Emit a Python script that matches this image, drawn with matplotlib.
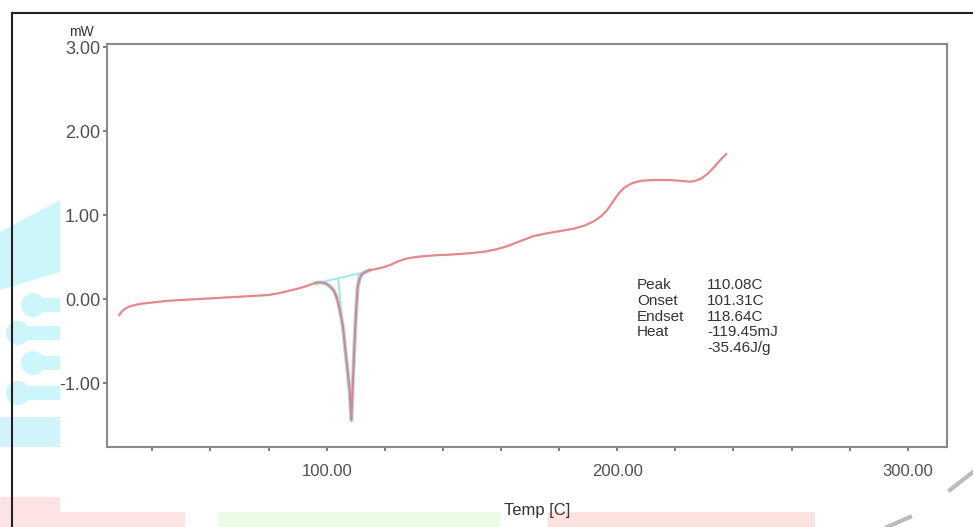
import matplotlib
matplotlib.use("Agg")
import matplotlib.pyplot as plt
import matplotlib.patches as patches
from matplotlib.lines import Line2D

plt.rcParams['font.family'] = ['Liberation Sans', 'DejaVu Sans']

# DSC trace: temperature [C] and heat flow [mW]
temp = [28.6, 29.3, 30.2, 31.3, 32.7, 34.5, 37, 41, 45, 52, 60, 70, 80, 84, 87, 90,
        92.5, 94.5, 96.3, 97.8, 99.2, 100.5, 101.5, 102.5, 103.5, 104.5, 105.6, 106.7,
        107.9, 108.5, 109.0, 109.5, 109.9, 110.3, 110.7, 111.3, 111.9, 113, 114.7,
        117, 119.5, 122, 124.5, 127, 130, 134, 138, 142, 150, 155, 159, 162, 165, 168,
        171, 175, 180, 185, 189, 192, 194.5, 196.5, 198.5, 200.5, 202.5, 205, 208,
        212, 218, 222, 225, 227, 229, 231, 233, 235, 237.5]
heat_flow = [-0.19, -0.155, -0.125, -0.1, -0.08, -0.065, -0.05, -0.035, -0.02, -0.005,
             0.01, 0.03, 0.05, 0.075, 0.1, 0.125, 0.15, 0.175, 0.195, 0.20, 0.195, 0.17,
             0.14, 0.10, 0.02, -0.12, -0.33, -0.69, -1.08, -1.44, -1.0, -0.6, -0.29,
             -0.05, 0.15, 0.24, 0.29, 0.32, 0.345, 0.36, 0.38, 0.41, 0.45, 0.48, 0.50,
             0.515, 0.525, 0.53, 0.55, 0.57, 0.60, 0.63, 0.67, 0.71, 0.75, 0.78, 0.81,
             0.84, 0.88, 0.93, 0.99, 1.06, 1.16, 1.26, 1.33, 1.38, 1.41, 1.42, 1.42,
             1.41, 1.40, 1.41, 1.44, 1.49, 1.56, 1.64, 1.73]

# peak analysis construction lines
base_t = [96.5, 114.0]
base_y = [0.19, 0.33]
onset_t = [104.0, 108.2]
onset_y = [0.23, -1.30]
endset_t = [110.9, 108.7]
endset_y = [0.29, -1.30]
dip_lo, dip_hi = 18, 39

labels = ['Peak', 'Onset', 'Endset', 'Heat', '']
values = ['110.08C', '101.31C', '118.64C', '-119.45mJ', '-35.46J/g']

fig = plt.figure(figsize=(9.73, 5.27), dpi=100)

# faint watermark of the source page
W, H = 973.0, 527.0
def frect(x0, y0, x1, y1, color):
    fig.patches.append(patches.Rectangle((x0 / W, 1 - y1 / H), (x1 - x0) / W, (y1 - y0) / H,
                                         transform=fig.transFigure, color=color, lw=0, zorder=-1))
cyan = '#ccf6fa'
fig.patches.append(patches.Polygon([(0, 1 - 232 / H), (60 / W, 1 - 200 / H), (60 / W, 1 - 272 / H),
                                    (0, 1 - 290 / H)], transform=fig.transFigure, color=cyan, lw=0,
                                   zorder=-1))
frect(0, 417, 60, 447, '#d3f3fb')
for cx, cy in [(33, 305), (18, 333), (33, 363), (18, 393)]:
    fig.patches.append(patches.Ellipse((cx / W, 1 - cy / H), 24 / W, 24 / H,
                                       transform=fig.transFigure, color=cyan, lw=0, zorder=-1))
    frect(cx, cy - 7, 60, cy + 7, cyan)
frect(0, 497, 60, 527, '#fde3e3')
frect(60, 512, 185, 527, '#fde3e3')
frect(218, 512, 500, 527, '#ecfbe6')
frect(548, 512, 815, 527, '#fde3df')
fig.lines.append(Line2D([950 / W, 973 / W], [1 - 490 / H, 1 - 472 / H], transform=fig.transFigure,
                        color='#bbbbbb', lw=3, zorder=-1))
fig.lines.append(Line2D([887 / W, 910 / W], [0, 1 - 517 / H], transform=fig.transFigure,
                        color='#bbbbbb', lw=3, zorder=-1))
# screenshot frame
fig.lines.append(Line2D([12 / W, 12 / W], [0, 1 - 13 / H], transform=fig.transFigure,
                        color='#222222', lw=1.5))
fig.lines.append(Line2D([12 / W, 1], [1 - 13 / H, 1 - 13 / H], transform=fig.transFigure,
                        color='#222222', lw=1.5))

ax = fig.add_axes([107 / W, 1 - 447 / H, (947 - 107) / W, (447 - 44) / H])
ax.set_facecolor('white')

ax.plot(temp[dip_lo:dip_hi], heat_flow[dip_lo:dip_hi], color='#a8e6ee', lw=3.0, zorder=2)
ax.plot(base_t, base_y, color='#a8e6ee', lw=1.5, zorder=2)
ax.plot(onset_t, onset_y, color='#a8e6ee', lw=1.5, zorder=2)
ax.plot(endset_t, endset_y, color='#a8e6ee', lw=1.5, zorder=2)
ax.plot(temp, heat_flow, color='#e07b80', lw=1.6, zorder=3, alpha=0.9)

ax.set_xlim(24.4, 313.5)
ax.set_ylim(-1.76, 3.04)
xt = list(range(40, 301, 20))
ax.set_xticks(xt)
ax.set_xticklabels([f'{t:.2f}' if t % 100 == 0 else '' for t in xt])
ax.set_yticks([-1, 0, 1, 2, 3])
ax.set_yticklabels([f'{v:.2f}' for v in [-1, 0, 1, 2, 3]])
ax.tick_params(axis='both', length=3, width=1.2, color='#666666', labelcolor='#505050')
ax.tick_params(axis='x', labelsize=12, pad=9)
ax.tick_params(axis='y', labelsize=13, pad=2)
for sp in ax.spines.values():
    sp.set_color('#8a8a8a')
    sp.set_linewidth(1.5)

fig.text(537 / W, 1 - 510 / H, 'Temp [C]', fontsize=12, color='#333333', ha='center', va='center')
fig.text(81 / W, 1 - 32 / H, 'mW', fontsize=10, color='#333333', ha='center', va='center')

for i, (lab, val) in enumerate(zip(labels, values)):
    yy = 1 - (285 + 15.8 * i) / H
    fig.text(637 / W, yy, lab, fontsize=11, color='#333333', va='center')
    fig.text(707 / W, yy, val, fontsize=11, color='#333333', va='center')

fig.savefig('out.png', dpi=100, facecolor='white')
